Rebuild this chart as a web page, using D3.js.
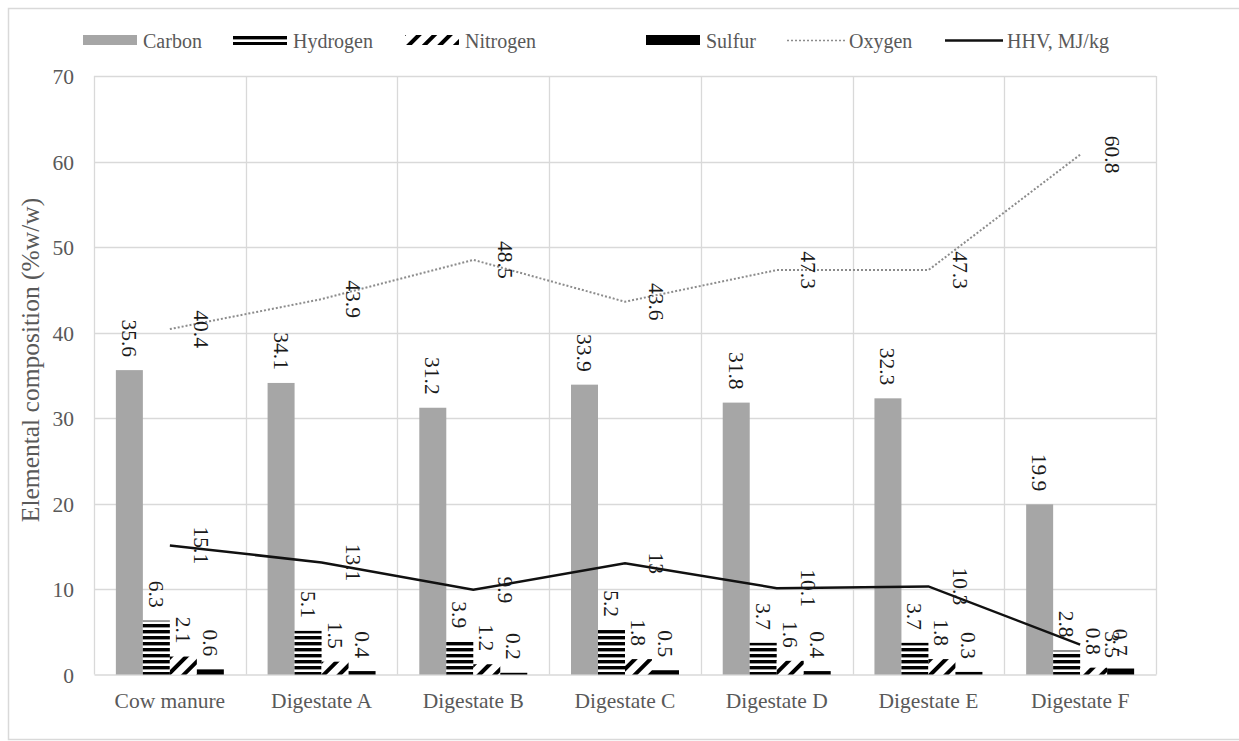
<!DOCTYPE html>
<html><head><meta charset="utf-8">
<script src="https://cdn.jsdelivr.net/npm/d3@7"></script>
<style>html,body{margin:0;padding:0;background:#fff;} svg{display:block;font-family:"Liberation Serif","Times New Roman",serif;}</style>
</head><body><svg id="c" width="1239" height="741"></svg>
<script>
const categories = ["Cow manure","Digestate A","Digestate B","Digestate C","Digestate D","Digestate E","Digestate F"];
const carbon   = [35.6, 34.1, 31.2, 33.9, 31.8, 32.3, 19.9];
const hydrogen = [6.3, 5.1, 3.9, 5.2, 3.7, 3.7, 2.8];
const nitrogen = [2.1, 1.5, 1.2, 1.8, 1.6, 1.8, 0.8];
const sulfur   = [0.6, 0.4, 0.2, 0.5, 0.4, 0.3, 0.7];
const oxygen   = [40.4, 43.9, 48.5, 43.6, 47.3, 47.3, 60.8];
const hhv      = [15.1, 13.1, 9.9, 13, 10.1, 10.3, 3.5];
const yTicks   = [0, 10, 20, 30, 40, 50, 60, 70];
const yTitle   = "Elemental composition (%w/w)";

const barSeries = [
  {name:"Carbon", values:carbon, fill:"#a6a6a6"},
  {name:"Hydrogen", values:hydrogen, fill:"url(#pH)"},
  {name:"Nitrogen", values:nitrogen, fill:"url(#pN)"},
  {name:"Sulfur", values:sulfur, fill:"#000"}
];
const lineSeries = [
  {name:"Oxygen", values:oxygen, stroke:"#8c8c8c", width:2, dash:"2,2"},
  {name:"HHV, MJ/kg", values:hhv, stroke:"#111", width:2.5, dash:null}
];

const svg = d3.select("#c");
const L = 94, R = 1156, T = 76, B = 674.5;
const defs = svg.append("defs");
const pH = defs.append("pattern").attr("id","pH").attr("patternUnits","userSpaceOnUse").attr("width",6).attr("height",6);
pH.append("rect").attr("width",6).attr("height",6).attr("fill","#fff");
pH.append("rect").attr("width",6).attr("height",3.4).attr("fill","#000");
const pN = defs.append("pattern").attr("id","pN").attr("patternUnits","userSpaceOnUse").attr("width",11).attr("height",11).attr("patternTransform","rotate(45)");
pN.append("rect").attr("width",11).attr("height",11).attr("fill","#fff");
pN.append("rect").attr("width",4).attr("height",11).attr("fill","#000");

svg.append("rect").attr("x",0).attr("y",0).attr("width",1239).attr("height",741).attr("fill","#fff");
svg.append("rect").attr("x",8.5).attr("y",8.5).attr("width",1240).attr("height",731).attr("fill","none").attr("stroke","#d9d9d9").attr("stroke-width",1.5);

const x = d3.scaleBand().domain(categories).range([L,R]).padding(0);
const x1 = d3.scaleBand().domain(barSeries.map(s=>s.name)).range([0,x.bandwidth()]).paddingInner(0).paddingOuter(0.81);
const y = d3.scaleLinear().domain([0,70]).range([B,T]);

// gridlines
svg.append("g").selectAll("line").data(yTicks.slice(1)).join("line")
  .attr("x1",L).attr("x2",R).attr("y1",d=>Math.round(y(d))+0.5).attr("y2",d=>Math.round(y(d))+0.5)
  .attr("stroke","#d9d9d9").attr("stroke-width",1.3);
const bounds = categories.map(c=>x(c)).concat([R]);
svg.append("g").selectAll("line").data(bounds).join("line")
  .attr("x1",d=>Math.round(d)+0.5).attr("x2",d=>Math.round(d)+0.5).attr("y1",T).attr("y2",B)
  .attr("stroke","#d9d9d9").attr("stroke-width",1.3);

// y axis
const yAxis = svg.append("g").attr("transform",`translate(${L-20},0)`)
  .call(d3.axisLeft(y).tickValues(yTicks).tickSize(0).tickPadding(0));
yAxis.attr("font-family",null);
yAxis.select(".domain").remove();
yAxis.selectAll("text").attr("font-size",21.5).attr("fill","#595959").attr("dy","0.35em");

// x axis
const xAxis = svg.append("g").attr("transform",`translate(0,${B})`)
  .call(d3.axisBottom(x).tickSize(0).tickPadding(0));
xAxis.attr("font-family",null);
xAxis.select(".domain").attr("stroke","#d9d9d9").attr("stroke-width",1.5);
xAxis.selectAll("text").attr("font-size",21.5).attr("fill","#595959").attr("dy",null).attr("y",33);

// y title
svg.append("text").attr("transform",`translate(39,360) rotate(-90)`)
  .attr("text-anchor","middle").attr("font-size",25.5).attr("fill","#595959").text(yTitle);

// bars
const gBars = svg.append("g");
barSeries.forEach(s=>{
  gBars.append("g").selectAll("rect").data(s.values).join("rect")
    .attr("x",(d,i)=>x(categories[i])+x1(s.name))
    .attr("width",x1.bandwidth())
    .attr("y",d=>y(d)).attr("height",d=>B-y(d))
    .attr("fill",s.fill);
});

// lines
lineSeries.forEach(s=>{
  const line = d3.line().x((d,i)=>x(categories[i])+x.bandwidth()/2).y(d=>y(d));
  svg.append("path").datum(s.values).attr("d",line).attr("fill","none")
    .attr("stroke",s.stroke).attr("stroke-width",s.width).attr("stroke-dasharray",s.dash);
});

// bar labels
barSeries.forEach(s=>{
  svg.append("g").selectAll("text").data(s.values).join("text")
    .attr("transform",(d,i)=>`translate(${x(categories[i])+x1(s.name)+x1.bandwidth()/2},${y(d)-13}) rotate(90)`)
    .attr("text-anchor","end").attr("dy","0.35em").attr("font-size",21.5).attr("fill","#1a1a1a")
    .text(d=>d);
});
// line labels
lineSeries.forEach(s=>{
  svg.append("g").selectAll("text").data(s.values).join("text")
    .attr("transform",(d,i)=>`translate(${x(categories[i])+x.bandwidth()/2+32},${y(d)}) rotate(90)`)
    .attr("text-anchor","middle").attr("dy","0.35em").attr("font-size",21.5).attr("fill","#1a1a1a")
    .text(d=>d);
});

// legend
const legend = [
  {name:"Carbon", type:"rect", fill:"#a6a6a6", x:83},
  {name:"Hydrogen", type:"rect", fill:"url(#pH)", x:233},
  {name:"Nitrogen", type:"rect", fill:"url(#pN)", x:405},
  {name:"Sulfur", type:"rect", fill:"#000", x:646},
  {name:"Oxygen", type:"line", stroke:"#8c8c8c", dash:"2,2", w:1.5, x:787},
  {name:"HHV, MJ/kg", type:"line", stroke:"#111", dash:null, w:2.5, x:945}
];
const lg = svg.append("g");
legend.forEach(l=>{
  if(l.type==="rect"){
    lg.append("rect").attr("x",l.x).attr("y",35).attr("width",54).attr("height",10).attr("fill",l.fill);
  } else {
    lg.append("line").attr("x1",l.x).attr("x2",l.x+58).attr("y1",40.5).attr("y2",40.5)
      .attr("stroke",l.stroke).attr("stroke-width",l.w).attr("stroke-dasharray",l.dash);
  }
  lg.append("text").attr("x",l.x+(l.type==="rect"?60:62)).attr("y",48).attr("font-size",20).attr("fill","#595959").text(l.name);
});
</script></body></html>
